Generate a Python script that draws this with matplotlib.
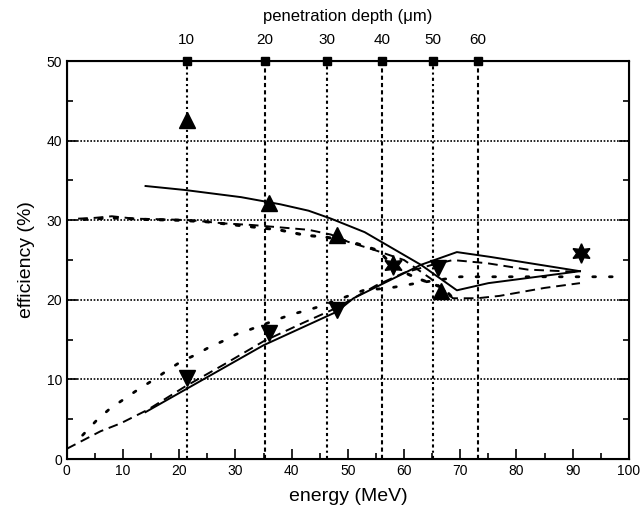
import numpy as np
import matplotlib.pyplot as plt

plt.rcParams['font.family'] = ['Liberation Sans', 'DejaVu Sans']

# energía correspondiente a cada profundidad de penetración
depth_labels = ['10', '20', '30', '40', '50', '60']
depth_energy = [21.3, 35.2, 46.2, 56.1, 65.2, 73.2]

# datos medidos
up_x = [21.3, 36.0, 48.0, 66.5]
up_y = [42.6, 32.2, 28.2, 21.1]
down_x = [21.3, 36.0, 48.0, 66.0]
down_y = [10.2, 15.9, 18.7, 24.0]
star_x = [58.0, 91.5]
star_y = [24.4, 25.9]

# curvas
solid_hi_x = [14, 21, 31, 38, 43, 47, 53, 63, 69.4, 75, 91.3]
solid_hi_y = [34.3, 33.8, 32.9, 32.0, 31.2, 30.2, 28.5, 24.4, 21.2, 22.1, 23.6]
solid_lo_x = [14, 21.5, 35, 48, 51, 63, 69.4, 75.3, 91.3]
solid_lo_y = [5.9, 8.9, 14.3, 18.5, 20.2, 24.4, 26.0, 25.4, 23.6]

dash_hi_x = [2, 5, 8, 12, 18, 22, 28, 33, 38, 43, 47, 50, 55, 60, 64.7, 68.7, 73, 77, 85, 91.3]
dash_hi_y = [30.2, 30.3, 30.5, 30.2, 30.1, 30.0, 29.6, 29.4, 29.1, 28.8, 28.2, 27.3, 26.2, 25.0, 22.7, 20.2, 20.2, 20.5, 21.5, 22.1]
dash_lo_x = [0, 3, 6, 9.6, 14.4, 21, 28, 35, 42, 48, 55, 60, 65, 68.7, 74.8, 82, 91.3]
dash_lo_y = [1.3, 2.4, 3.5, 4.5, 6.2, 9.1, 11.9, 14.8, 17.1, 19.0, 21.8, 23.4, 24.4, 25.0, 24.6, 23.8, 23.5]

dot_hi_x = [3, 8, 14, 20, 25, 30, 37.7, 42.5, 46, 51, 55.4, 58.4, 62, 67, 68.7]
dot_hi_y = [30.1, 30.3, 30.1, 30.0, 29.8, 29.4, 28.8, 28.1, 27.9, 27.2, 26.2, 24.0, 22.8, 21.5, 20.2]
dot_lo_x = [2.8, 5.2, 7.6, 10.1, 12.8, 15.3, 17.8, 20.2, 22.9, 25.2, 27.7, 30.2, 32.7, 37.7, 40.1, 42.8, 45.1, 52.8, 57.5, 62.3, 70, 98]
dot_lo_y = [3.0, 4.8, 6.3, 7.5, 8.8, 9.9, 11.1, 12.2, 13.1, 14.0, 14.8, 15.7, 16.3, 17.6, 18.2, 18.7, 19.2, 21.2, 21.5, 22.1, 22.9, 22.9]

fig = plt.figure(figsize=(6.43, 5.17), dpi=100)
ax = fig.add_axes([0.104, 0.112, 0.874, 0.770])

# rejilla horizontal
for yv in [10, 20, 30, 40]:
    ax.axhline(yv, color='black', lw=1.2, linestyle=(0, (1, 1)), zorder=1)

# líneas verticales de profundidad
vstyles = [(0, (1.5, 1.5, 1, 1.5)), (0, (2, 1.5)), (0, (1.5, 1.5, 1, 1.5)), (0, (2, 1.5)), (0, (1.5, 1.5, 1, 1.5)), (0, (2, 1.5))]
for xe, ls in zip(depth_energy, vstyles):
    ax.axvline(xe, color='black', lw=1.5, linestyle=ls, zorder=1)

ax.plot(solid_hi_x, solid_hi_y, color='black', lw=1.4)
ax.plot(solid_lo_x, solid_lo_y, color='black', lw=1.4)
ax.plot(dash_hi_x, dash_hi_y, color='black', lw=1.4, linestyle=(0, (5, 3)))
ax.plot(dash_lo_x, dash_lo_y, color='black', lw=1.4, linestyle=(0, (5, 3)))
ax.plot(dot_hi_x, dot_hi_y, color='black', lw=2.2, linestyle=(0, (1, 4)), dash_capstyle='round')
ax.plot(dot_lo_x, dot_lo_y, color='black', lw=2.0, linestyle=(0, (1, 5)), dash_capstyle='round')

ax.plot(up_x, up_y, '^', color='black', markersize=12, zorder=5)
ax.plot(down_x, down_y, 'v', color='black', markersize=12, zorder=5)
ax.plot(star_x, star_y, marker=(6, 1, 0), linestyle='none', color='black', markersize=14, zorder=5)

ax.set_xlim(0, 100)
ax.set_ylim(0, 50)
ax.set_xticks(np.arange(0, 101, 10))
ax.set_xticks(np.arange(0, 101, 5), minor=True)
ax.set_yticks(np.arange(0, 51, 10))
ax.set_yticks(np.arange(0, 51, 5), minor=True)
ax.tick_params(which='both', direction='in', right=True, top=False, labelsize=10, width=1.2)
ax.tick_params(which='major', length=7)
ax.tick_params(which='minor', length=4)
for sp in ax.spines.values():
    sp.set_linewidth(1.5)

ax.set_xlabel('energy (MeV)', fontsize=14, labelpad=7)
ax.set_ylabel('efficiency (%)', fontsize=14, labelpad=8)

# eje superior: profundidad de penetración
ax2 = ax.twiny()
ax2.set_xlim(ax.get_xlim())
ax2.set_xticks(depth_energy)
ax2.set_xticklabels(depth_labels)
ax2.tick_params(axis='x', length=0, labelsize=11, pad=10)
ax2.set_xlabel('penetration depth (μm)', fontsize=12, labelpad=9)
ax.plot(depth_energy, [50] * len(depth_energy), 's', color='black', markersize=6, clip_on=False, zorder=6)

fig.savefig('out.png', dpi=100)
